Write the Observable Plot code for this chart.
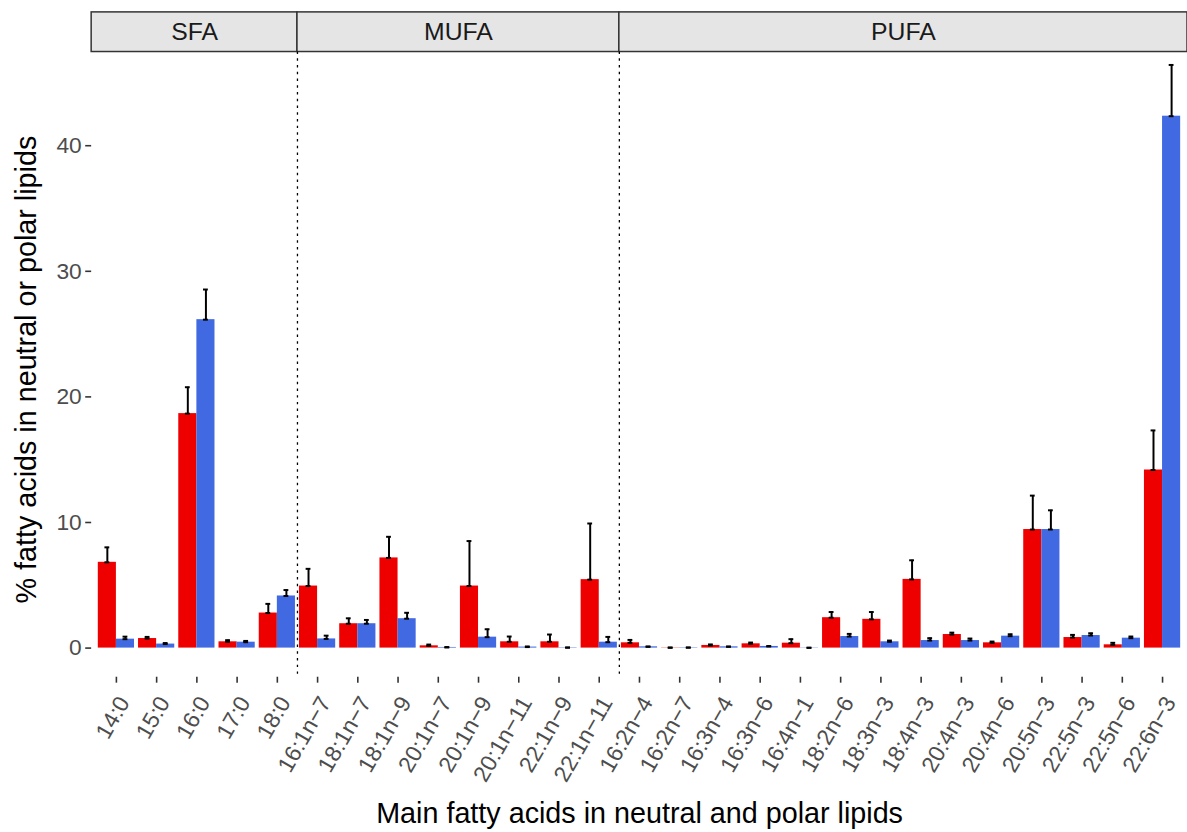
<!DOCTYPE html>
<html>
<head>
<meta charset="utf-8">
<script src="https://cdn.jsdelivr.net/npm/d3@7"></script>
<script src="https://cdn.jsdelivr.net/npm/@observablehq/plot@0.6"></script>
<style>
  html, body { margin: 0; padding: 0; background: #fff; overflow: hidden; width: 1187px; height: 832px; }
  #chart svg { display: block; }
</style>
</head>
<body>
<div id="chart"></div>
<script>
// ---- data ----
const categories = [
  "14:0", "15:0", "16:0", "17:0", "18:0",
  "16:1n\u22127", "18:1n\u22127", "18:1n\u22129", "20:1n\u22127", "20:1n\u22129", "20:1n\u221211", "22:1n\u22129", "22:1n\u221211",
  "16:2n\u22124", "16:2n\u22127", "16:3n\u22124", "16:3n\u22126", "16:4n\u22121", "18:2n\u22126", "18:3n\u22123", "18:4n\u22123",
  "20:4n\u22123", "20:4n\u22126", "20:5n\u22123", "22:5n\u22123", "22:5n\u22126", "22:6n\u22123"
];
const fattyAcidClass = [
  "SFA", "SFA", "SFA", "SFA", "SFA",
  "MUFA", "MUFA", "MUFA", "MUFA", "MUFA", "MUFA", "MUFA", "MUFA",
  "PUFA", "PUFA", "PUFA", "PUFA", "PUFA", "PUFA", "PUFA", "PUFA", "PUFA", "PUFA", "PUFA", "PUFA", "PUFA", "PUFA"
];
const series = ["neutral", "polar"];
const neutral   = [6.83, 0.76, 18.67, 0.50, 2.79,  4.94, 1.94, 7.18, 0.18, 4.94, 0.50, 0.50, 5.45,  0.42, 0.02, 0.21, 0.34, 0.39, 2.42, 2.29, 5.47, 1.08, 0.42, 9.44, 0.84, 0.26, 14.18];
const neutralSD = [1.19, 0.13, 2.10, 0.13, 0.73,   1.37, 0.43, 1.68, 0.10, 3.58, 0.42, 0.58, 4.47,  0.23, 0.03, 0.08, 0.10, 0.32, 0.45, 0.58, 1.52, 0.15, 0.10, 2.70, 0.21, 0.16, 3.15];
const polar     = [0.71, 0.32, 26.15, 0.47, 4.15,  0.73, 1.94, 2.34, 0.05, 0.87, 0.08, 0.03, 0.47,  0.10, 0.03, 0.10, 0.13, 0.02, 0.92, 0.50, 0.60, 0.60, 0.95, 9.44, 1.00, 0.79, 42.35];
const polarSD   = [0.20, 0.08, 2.40, 0.10, 0.47,   0.26, 0.30, 0.47, 0.03, 0.63, 0.05, 0.02, 0.42,  0.03, 0.02, 0.03, 0.03, 0.01, 0.21, 0.10, 0.19, 0.16, 0.15, 1.53, 0.18, 0.13, 4.08];
const yTicks = [0, 10, 20, 30, 40];
const xTitle = "Main fatty acids in neutral and polar lipids";
const yTitle = "% fatty acids in neutral or polar lipids";

// ---- layout / style constants ----
const xDomain = [-0.615, 26.62];
const yDomain = [-2.32, 47.46];
const barW = 0.45;      // width of each dodged bar (category units)
const capW = 0.06;      // half width of error-bar caps
const colors = ["#EE0000", "#4169E1"];

// ---- derived tables ----
const rows = categories.flatMap((c, i) => [
  {i, series: "neutral", v: neutral[i], sd: neutralSD[i], off: -1},
  {i, series: "polar", v: polar[i], sd: polarSD[i], off: 1}
]);
rows.forEach(d => { d.xc = d.i + d.off * barW / 2; d.top = d.v + d.sd; });

const strips = d3.groups(categories.map((c, i) => ({i, g: fattyAcidClass[i]})), d => d.g)
  .map(([name, items]) => ({name, x1: d3.min(items, d => d.i) - 0.5, x2: d3.max(items, d => d.i) + 0.5}));
strips[0].x1 = xDomain[0];
strips[strips.length - 1].x2 = xDomain[1];
const boundaries = strips.slice(1).map(d => d.x1);

const font = "'Liberation Sans', Arial, Helvetica, sans-serif";

const chart = Plot.plot({
  width: 1198,
  height: 832,
  marginLeft: 92,
  marginRight: 0,
  marginTop: 52,
  marginBottom: 149,
  style: {fontFamily: font, background: "white", overflow: "visible"},
  x: {type: "linear", domain: xDomain},
  y: {domain: yDomain},
  color: {domain: series, range: colors},
  marks: [
    // facet strips
    Plot.rect(strips, {x1: "x1", x2: "x2", y1: yDomain[1], y2: yDomain[1], insetTop: -40,
      fill: "#e5e5e5", stroke: "#333333", strokeWidth: 1.5}),
    Plot.text(strips, {x: d => (d.x1 + d.x2) / 2, y: yDomain[1], dy: -20, text: "name",
      fontSize: 25, fill: "#1a1a1a", lineAnchor: "middle"}),
    // bars
    Plot.rectY(rows, {
      x1: d => d.off < 0 ? d.i - barW : d.i,
      x2: d => d.off < 0 ? d.i : d.i + barW,
      y1: 0, y2: "v", fill: "series"
    }),
    // error bars
    Plot.ruleX(rows, {x: "xc", y1: "v", y2: "top", stroke: "black", strokeWidth: 2}),
    Plot.ruleY(rows, {y: "top", x1: d => d.xc - capW, x2: d => d.xc + capW, stroke: "black", strokeWidth: 2}),
    Plot.ruleY(rows, {y: "v", x1: d => d.xc - capW, x2: d => d.xc + capW, stroke: "black", strokeWidth: 2}),
    // dotted group separators
    Plot.ruleX(boundaries, {stroke: "black", strokeWidth: 1.3, strokeDasharray: "2.5,4.3"}),
    // axes
    Plot.axisY({ticks: yTicks, tickSize: 6, tickPadding: 4, fontSize: 23, fill: "#4d4d4d",
      stroke: "#333333", strokeWidth: 1.6, line: true, label: null}),
    Plot.axisX({ticks: d3.range(categories.length), tickFormat: i => categories[i],
      tickRotate: -60, textAnchor: "end", lineAnchor: "top", tickSize: 6, tickPadding: 11,
      fontSize: 23, fill: "#4d4d4d", stroke: "#333333", strokeWidth: 1.6, line: true, label: null}),
    // titles
    Plot.text([xTitle], {text: d => d, frameAnchor: "bottom", lineAnchor: "middle", textAnchor: "middle",
      dy: 138, fontSize: 29, fill: "black"}),
    Plot.text([yTitle], {text: d => d, frameAnchor: "left", lineAnchor: "middle", textAnchor: "middle",
      dx: -65, dy: 5, rotate: -90, fontSize: 29, fill: "black"})
  ]
});
document.getElementById("chart").appendChild(chart);
</script>
</body>
</html>
